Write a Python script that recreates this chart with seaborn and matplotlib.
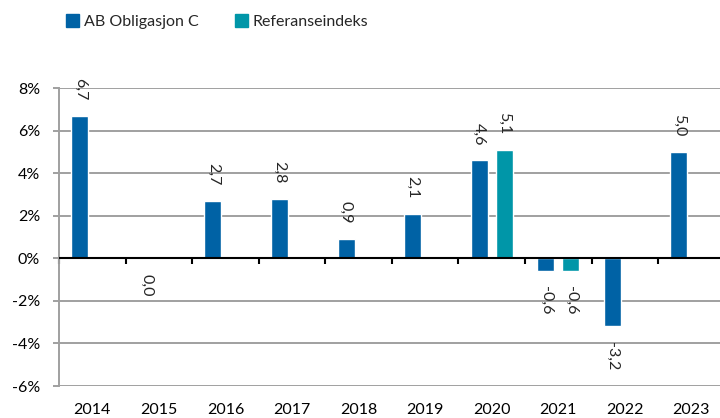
import numpy as np
import pandas as pd
import matplotlib
matplotlib.use("Agg")
import matplotlib.pyplot as plt
from matplotlib.patches import Patch
import seaborn as sns

years = ["2014", "2015", "2016", "2017", "2018", "2019", "2020", "2021", "2022", "2023"]
fund = [6.7, 0.0, 2.7, 2.8, 0.9, 2.1, 4.6, -0.6, -3.2, 5.0]
bench = [np.nan, np.nan, np.nan, np.nan, np.nan, np.nan, 5.1, -0.6, np.nan, np.nan]
series_names = ["AB Obligasjon C", "Referanseindeks"]
colors = ["#0062A5", "#0096A8"]
y_ticks = [-6, -4, -2, 0, 2, 4, 6, 8]

df = pd.DataFrame({
    "year": years * 2,
    "value": fund + bench,
    "series": [series_names[0]] * len(years) + [series_names[1]] * len(years),
})

sns.set_style("white")
plt.rcParams["font.family"] = ["Lato", "DejaVu Sans"]
fs = 11.5

fig = plt.figure(figsize=(7.2, 4.18), dpi=100)
ax = fig.add_axes([59 / 720, 1 - 386 / 418, 1 - 59 / 720, (386 - 88) / 418])

sns.barplot(data=df, x="year", y="value", hue="series", order=years,
            hue_order=series_names, palette=colors, saturation=1,
            width=0.75, gap=0.32, legend=False, ax=ax)

ax.set_xlim(-0.5, 9.43)
ax.set_ylim(-6, 8)
ax.set_yticks(y_ticks)
ax.set_yticklabels([f"{t}%" for t in y_ticks])
ax.set_xlabel("")
ax.set_ylabel("")
ax.grid(axis="y", color="#a0a0a0", lw=1.4)
ax.set_axisbelow(True)
for s in ["top", "right", "bottom"]:
    ax.spines[s].set_visible(False)
ax.spines["left"].set_color("#a0a0a0")
ax.spines["left"].set_linewidth(1.4)
ax.tick_params(axis="y", length=4.5, width=1.4, color="#a0a0a0", pad=9,
               labelsize=fs, labelcolor="black", left=True)
ax.tick_params(axis="x", length=0, pad=12, labelsize=fs, labelcolor="black")

# zero line with category separators
ax.axhline(0, color="black", lw=1.5, zorder=3)
sec = ax.secondary_xaxis(6 / 14)
sec.spines["bottom"].set_visible(False)
sec.set_xticks(np.arange(len(years) + 1) - 0.5)
sec.tick_params(length=4, width=1.5, color="black", labelbottom=False, direction="out")

for p in ax.patches:
    h = p.get_height()
    if np.isnan(h):
        continue
    xc = p.get_x() + p.get_width() / 2
    up = h > 0
    ax.annotate(f"{h:.1f}".replace(".", ","), (xc, h), xytext=(0, 11 if up else -11),
                textcoords="offset points", rotation=270, ha="center",
                va="bottom" if up else "top", fontsize=fs, annotation_clip=False,
                zorder=5)

handles = [Patch(color=c) for c in colors]
fig.legend(handles, series_names, loc="upper left", bbox_to_anchor=(52 / 720, 1.0),
           ncol=2, frameon=False, fontsize=fs, handlelength=0.8, handleheight=0.8,
           handletextpad=0.3, columnspacing=2.3)

fig.savefig("out.png", dpi=100)
